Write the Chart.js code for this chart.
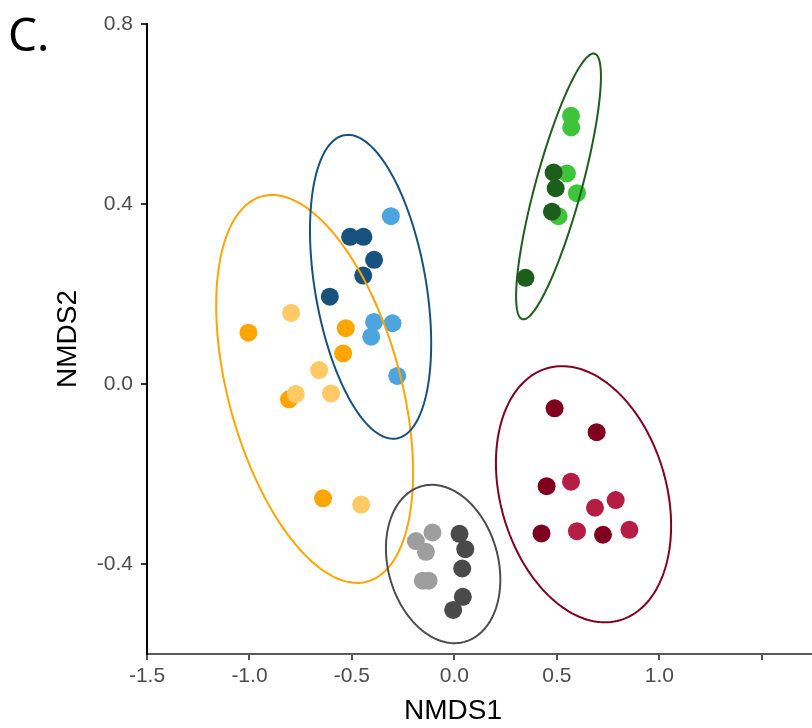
<!DOCTYPE html>
<html>
<head>
<meta charset="utf-8">
<script src="https://cdn.jsdelivr.net/npm/chart.js@4.4.0/dist/chart.umd.min.js"></script>
<style>
  html, body { margin: 0; padding: 0; background: #ffffff; }
  #wrap { width: 812px; height: 728px; }
</style>
</head>
<body>
<div id="wrap"><canvas id="nmdsChart" width="812" height="728"></canvas></div>
<script>
// axis ticks
var xTicks = [-1.5, -1.0, -0.5, 0.0, 0.5, 1.0, 1.5];
var xTickLabels = ['-1.5', '-1.0', '-0.5', '0.0', '0.5', '1.0', ''];
var yTicks = [-0.4, 0.0, 0.4, 0.8];
var yTickLabels = ['-0.4', '0.0', '0.4', '0.8'];

// points (NMDS1, NMDS2)
var orangeX = [-1.005, -0.530, -0.543, -0.807, -0.641];
var orangeY = [0.114, 0.124, 0.068, -0.034, -0.254];
var lightOrangeX = [-0.797, -0.660, -0.774, -0.602, -0.455];
var lightOrangeY = [0.158, 0.031, -0.022, -0.021, -0.268];

var navyX = [-0.509, -0.444, -0.392, -0.445, -0.608];
var navyY = [0.327, 0.327, 0.276, 0.241, 0.194];
var skyX = [-0.310, -0.392, -0.302, -0.406, -0.279];
var skyY = [0.373, 0.138, 0.135, 0.105, 0.018];

var darkGreenX = [0.484, 0.494, 0.476, 0.347];
var darkGreenY = [0.470, 0.435, 0.383, 0.236];
var lightGreenX = [0.569, 0.570, 0.549, 0.598, 0.508];
var lightGreenY = [0.596, 0.570, 0.468, 0.424, 0.373];

var darkGreyX = [0.025, 0.053, 0.038, 0.041, -0.006];
var darkGreyY = [-0.333, -0.367, -0.410, -0.473, -0.502];
var lightGreyX = [-0.107, -0.188, -0.139, -0.154, -0.126];
var lightGreyY = [-0.330, -0.349, -0.373, -0.437, -0.437];

var wineX = [0.489, 0.694, 0.450, 0.425, 0.725];
var wineY = [-0.054, -0.107, -0.227, -0.332, -0.335];
var crimsonX = [0.569, 0.787, 0.686, 0.598, 0.854];
var crimsonY = [-0.217, -0.258, -0.275, -0.327, -0.324];

// ellipses: centre x, centre y, then two conjugate semi-axis vectors (data units)
var ellipseOrange = [-0.682, -0.011, 0.257, -0.428, 0.406, 0.051];
var ellipseBlue = [-0.409, 0.216, 0.127, -0.337, 0.267, 0.021];
var ellipseGreen = [0.508, 0.439, -0.176, -0.295, 0.109, -0.013];
var ellipseRed = [0.630, -0.245, 0.177, -0.280, 0.389, 0.051];
var ellipseGrey = [-0.055, -0.400, 0.104, -0.173, 0.259, 0.032];

function pts(xs, ys) {
  return xs.map(function(x, i) { return { x: x, y: ys[i] }; });
}

function dots(xs, ys, color) {
  return {
    data: pts(xs, ys),
    backgroundColor: color,
    borderWidth: 0,
    pointRadius: 9,
    pointHoverRadius: 9
  };
}

var ellipses = [
  { p: ellipseOrange, color: '#FFA500' },
  { p: ellipseBlue, color: '#17527F' },
  { p: ellipseGreen, color: '#1E5E1C' },
  { p: ellipseRed, color: '#800020' },
  { p: ellipseGrey, color: '#4D4D4D' }
];

// draws the group ellipses through the chart scales
var ellipsePlugin = {
  id: 'ellipses',
  afterDatasetsDraw: function(chart) {
    var ctx = chart.ctx, xs = chart.scales.x, ys = chart.scales.y;
    ctx.save();
    ctx.lineWidth = 2;
    ellipses.forEach(function(e) {
      var p = e.p;
      ctx.beginPath();
      for (var k = 0; k <= 180; k++) {
        var t = k / 180 * Math.PI * 2;
        var dx = p[0] + p[2] * Math.cos(t) + p[4] * Math.sin(t);
        var dy = p[1] + p[3] * Math.cos(t) + p[5] * Math.sin(t);
        var px = xs.getPixelForValue(dx), py = ys.getPixelForValue(dy);
        if (k === 0) ctx.moveTo(px, py); else ctx.lineTo(px, py);
      }
      ctx.closePath();
      ctx.strokeStyle = e.color;
      ctx.stroke();
    });
    ctx.restore();
  }
};

// panel letter and x title (the title sits left of the panel centre)
var panelLabel = {
  id: 'panelLabel',
  afterDraw: function(chart) {
    var ctx = chart.ctx;
    ctx.save();
    ctx.font = '46px "Noto Sans"';
    ctx.fillStyle = '#000000';
    ctx.textBaseline = 'alphabetic';
    ctx.fillText('C.', 8, 51);
    ctx.font = '28px "Liberation Sans", Arial, sans-serif';
    ctx.textAlign = 'center';
    ctx.textBaseline = 'middle';
    ctx.fillText('NMDS1', 453, 711);
    ctx.restore();
  }
};

var ctx = document.getElementById('nmdsChart').getContext('2d');

var myChart = new Chart(ctx, {
  type: 'scatter',
  data: {
    datasets: [
      dots(lightOrangeX, lightOrangeY, '#FFC966'),
      dots(orangeX, orangeY, '#FFA500'),
      dots(skyX, skyY, '#4CA5DF'),
      dots(navyX, navyY, '#17527F'),
      dots(darkGreenX, darkGreenY, '#1E5E1C'),
      dots(lightGreenX, lightGreenY, '#3DC43B'),
      dots(lightGreyX, lightGreyY, '#9E9E9E'),
      dots(darkGreyX, darkGreyY, '#4A4A4A'),
      dots(crimsonX, crimsonY, '#B51D44'),
      dots(wineX, wineY, '#800020')
    ]
  },
  options: {
    responsive: false,
    animation: false,
    layout: { autoPadding: false, padding: { left: 0, top: 24, right: 1, bottom: 0 } },
    plugins: {
      legend: { display: false },
      tooltip: { enabled: false }
    },
    scales: {
      x: {
        type: 'linear',
        min: -1.5,
        max: 1.74,
        afterBuildTicks: function(s) { s.ticks = xTicks.map(function(v) { return { value: v }; }); },
        afterFit: function(s) { s.height = 74; s.paddingLeft = 0; s.paddingRight = 0; },
        ticks: {
          padding: 4,
          color: '#4D4D4D',
          font: { family: '"Liberation Sans", Arial, sans-serif', size: 21 },
          maxRotation: 0,
          autoSkip: false,
          callback: function(v, i) { return xTickLabels[i]; }
        },
        grid: { display: true, drawOnChartArea: false, drawTicks: true, tickLength: 6, color: '#555555', lineWidth: 2 },
        border: { display: true, color: '#5A5A5A', width: 2 },
        title: { display: false }
      },
      y: {
        type: 'linear',
        min: -0.6,
        max: 0.8,
        afterBuildTicks: function(s) { s.ticks = yTicks.map(function(v) { return { value: v }; }); },
        afterFit: function(s) { s.width = 147; s.paddingTop = 0; s.paddingBottom = 0; },
        ticks: {
          padding: 8,
          color: '#4D4D4D',
          font: { family: '"Liberation Sans", Arial, sans-serif', size: 21 },
          autoSkip: false,
          callback: function(v, i) { return yTickLabels[i]; }
        },
        grid: { display: true, drawOnChartArea: false, drawTicks: true, tickLength: 6, color: '#333333', lineWidth: 2 },
        border: { display: true, color: '#000000', width: 2 },
        title: {
          display: true,
          text: 'NMDS2',
          color: '#000000',
          font: { family: '"Liberation Sans", Arial, sans-serif', size: 28 },
          padding: { top: 51, bottom: 0 }
        }
      }
    }
  },
  plugins: [ellipsePlugin, panelLabel]
});
</script>
</body>
</html>
